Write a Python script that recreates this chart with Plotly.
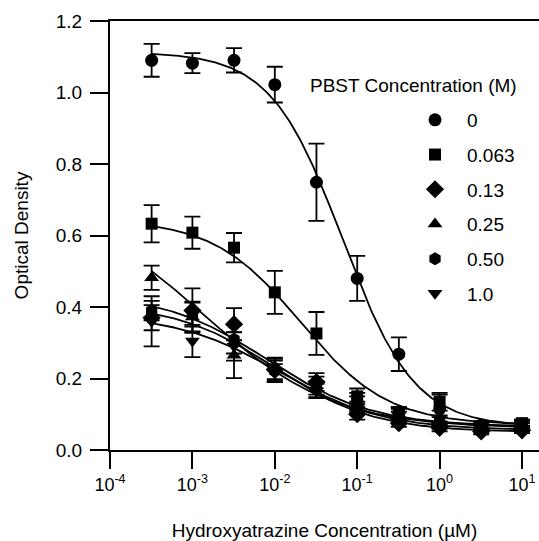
import numpy as np
import plotly.graph_objects as go

# Hydroxyatrazine concentration (uM)
conc = [0.00032, 0.001, 0.0032, 0.01, 0.032, 0.1, 0.32, 1.0, 3.2, 10.0]

series_names = ["0", "0.063", "0.13", "0.25", "0.50", "1.0"]
series_symbols = ["circle", "square", "diamond", "triangle-up", "hexagon", "triangle-down"]

od_0 = [1.090, 1.082, 1.090, 1.022, 0.749, 0.480, 0.268, 0.115, 0.070, 0.065]
err_0 = [0.046, 0.028, 0.034, 0.050, 0.108, 0.063, 0.047, 0.040, 0.010, 0.010]

od_063 = [0.633, 0.608, 0.566, 0.441, 0.326, 0.150, 0.105, 0.135, 0.065, 0.075]
err_063 = [0.052, 0.045, 0.041, 0.060, 0.060, 0.022, 0.015, 0.025, 0.010, 0.010]

od_13 = [0.370, 0.390, 0.352, 0.225, 0.190, 0.100, 0.075, 0.062, 0.052, 0.055]
err_13 = [0.035, 0.062, 0.045, 0.030, 0.025, 0.015, 0.010, 0.010, 0.008, 0.008]

od_25 = [0.482, 0.372, 0.265, 0.228, 0.180, 0.130, 0.100, 0.080, 0.068, 0.075]
err_25 = [0.034, 0.040, 0.064, 0.030, 0.025, 0.020, 0.015, 0.012, 0.010, 0.010]

od_50 = [0.390, 0.380, 0.310, 0.220, 0.170, 0.140, 0.105, 0.085, 0.070, 0.070]
err_50 = [0.027, 0.035, 0.040, 0.030, 0.022, 0.020, 0.015, 0.012, 0.010, 0.010]

od_100 = [0.360, 0.305, 0.290, 0.215, 0.165, 0.120, 0.095, 0.070, 0.060, 0.060]
err_100 = [0.070, 0.045, 0.040, 0.025, 0.020, 0.015, 0.012, 0.010, 0.008, 0.008]

# four-parameter logistic fit parameters
fit_top = [1.113, 0.645, 0.410, 0.700, 0.440, 0.380]
fit_bottom = [0.065, 0.070, 0.050, 0.060, 0.065, 0.055]
fit_ic50 = [0.0665, 0.0205, 0.0100, 0.00135, 0.0082, 0.0115]
fit_slope = [1.00, 0.82, 0.72, 0.55, 0.68, 0.69]

x_tick_vals = [1e-4, 1e-3, 1e-2, 1e-1, 1e0, 1e1]
x_tick_text = ["10<sup>-4</sup>", "10<sup>-3</sup>", "10<sup>-2</sup>",
               "10<sup>-1</sup>", "10<sup>0</sup>", "10<sup>1</sup>"]
y_tick_vals = [0.0, 0.2, 0.4, 0.6, 0.8, 1.0, 1.2]

od_all = [od_0, od_063, od_13, od_25, od_50, od_100]
err_all = [err_0, err_063, err_13, err_25, err_50, err_100]
marker_sizes = [13, 12, 14, 13, 13, 13]

FONT = "Liberation Sans, Arial, sans-serif"

fig = go.Figure()

xfit = np.logspace(np.log10(conc[0]), np.log10(conc[-1]), 300)
for i in range(len(series_names)):
    yfit = fit_bottom[i] + (fit_top[i] - fit_bottom[i]) / (1 + (xfit / fit_ic50[i]) ** fit_slope[i])
    fig.add_trace(go.Scatter(x=xfit, y=yfit, mode="lines",
                             line=dict(color="black", width=1.8),
                             showlegend=False, hoverinfo="skip"))

for i in range(len(series_names)):
    fig.add_trace(go.Scatter(
        x=conc, y=od_all[i], mode="markers", name=series_names[i],
        legendgroup="g" + str(i),
        marker=dict(symbol=series_symbols[i], size=marker_sizes[i], color="black",
                    line=dict(width=0)),
        error_y=dict(type="data", array=err_all[i], visible=True,
                     color="black", thickness=1.8, width=8),
    ))

fig.update_layout(
    width=539, height=541,
    margin=dict(l=110, r=0, t=21, b=91, autoexpand=False),
    paper_bgcolor="white", plot_bgcolor="white",
    font=dict(family=FONT, size=19, color="black"),
    showlegend=True,
    legend=dict(x=0.683, y=(450 - 101) / 429, xanchor="left", yanchor="top",
                itemwidth=54, tracegroupgap=7, bgcolor="rgba(0,0,0,0)",
                font=dict(size=19, family=FONT), itemclick=False),
    annotations=[dict(text="PBST Concentration (M)", xref="paper", yref="paper",
                      x=(413 - 110) / 429, y=(450 - 85) / 429,
                      xanchor="center", yanchor="middle", showarrow=False,
                      font=dict(size=19, family=FONT))],
)

fig.update_xaxes(type="log", range=[-4, 1.206], tickvals=x_tick_vals, ticktext=x_tick_text,
                 ticks="outside", ticklen=17, tickwidth=2, tickcolor="black",
                 showline=True, linecolor="black", linewidth=2, mirror=True,
                 showgrid=False, zeroline=False, tickfont=dict(size=18),
                 title=dict(text="Hydroxyatrazine Concentration (µM)", standoff=34,
                            font=dict(size=19)))
fig.update_yaxes(range=[0, 1.2], tickvals=y_tick_vals, tickformat=".1f",
                 ticks="outside", ticklen=18, tickwidth=2, tickcolor="black",
                 showline=True, linecolor="black", linewidth=2,
                 showgrid=False, zeroline=False, tickfont=dict(size=19),
                 ticklabelstandoff=4,
                 title=dict(text="Optical Density", standoff=22, font=dict(size=19)))

fig.write_html("out.html")
